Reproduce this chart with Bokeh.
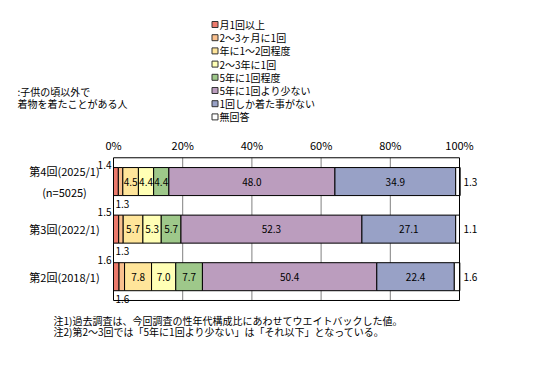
from bokeh.plotting import figure
from bokeh.models import ColumnDataSource, Range1d
from bokeh.core.properties import value
from bokeh.embed import file_html
from bokeh.resources import INLINE

# ---------------- data ----------------
categories = ["第2回(2018/1)", "第3回(2022/1)", "第4回(2025/1)"]          # bottom -> top
row_labels = ["第2回(2018/1)", "第3回(2022/1)", "第4回(2025/1)\n(n=5025)"]

series_names = ["月1回以上", "2～3ヶ月に1回", "年に1～2回程度", "2～3年に1回",
                "5年に1回程度", "5年に1回より少ない", "1回しか着た事がない", "無回答"]

monthly          = [1.6, 1.5, 1.4]
every_2_3_months = [1.6, 1.3, 1.3]
yearly_1_2       = [7.8, 5.7, 4.5]
every_2_3_years  = [7.0, 5.3, 4.4]
every_5_years    = [7.7, 5.7, 4.4]
less_than_5y     = [50.4, 52.3, 48.0]
only_once        = [22.4, 27.1, 34.9]
no_answer        = [1.6, 1.1, 1.3]

tick_values = [0, 20, 40, 60, 80, 100]
tick_labels = ["0%", "20%", "40%", "60%", "80%", "100%"]

side_note = [":子供の頃以外で", "着物を着たことがある人"]
notes = ["注1)過去調査は、今回調査の性年代構成比にあわせてウエイトバックした値。",
         "注2)第2～3回では「5年に1回より少ない」は「それ以下」となっている。"]

colors = ["#EC7A6C", "#F9C08E", "#FFE59A", "#FFFFB5",
          "#9EC88A", "#BB9DBE", "#98A1C6", "#FFFFFF"]

series = [monthly, every_2_3_months, yearly_1_2, every_2_3_years,
          every_5_years, less_than_5y, only_once, no_answer]
keys = ["s%d" % i for i in range(len(series))]

JP = "Noto Sans CJK JP"

# ---------------- layout helpers (pixel -> data) ----------------
W, H = 531, 371
X0, XS = 113.0, 3.46          # page x of 0 %, px per 1 %
Y0, YS = 276.2, 47.57         # page y of bottom row centre, px per row
BAR_H = 0.589


def dx(px):
    return (px - X0) / XS


def dy(py):
    return (Y0 - py) / YS


p = figure(width=W, height=H,
           x_range=Range1d(dx(0), dx(W)), y_range=Range1d(dy(H), dy(0)),
           x_axis_location=None, y_axis_location=None,
           output_backend="svg", toolbar_location=None,
           min_border=0, min_border_left=0, min_border_right=0,
           min_border_top=0, min_border_bottom=0)
p.outline_line_color = None
p.grid.visible = False
p.background_fill_color = "white"
p.border_fill_color = "white"

rows = list(range(len(categories)))
ybot = rows[0] - 0.5
ytop = rows[-1] + 0.5

# grid lines (behind bars)
inner_ticks = tick_values[1:-1]
p.segment(x0=inner_ticks, y0=[ybot] * len(inner_ticks),
          x1=inner_ticks, y1=[ytop] * len(inner_ticks),
          line_color="#808080", line_width=1)

# bars
data = {"row": rows}
for k, s in zip(keys, series):
    data[k] = s
src = ColumnDataSource(data)
p.hbar_stack(keys, y="row", height=BAR_H, color=colors, source=src,
             line_color="black", line_width=1)

# plot frame
p.quad(left=[tick_values[0]], right=[tick_values[-1]], bottom=[ybot], top=[ytop],
       fill_color=None, line_color="black", line_width=1)

# tick labels
p.text(x=tick_values, y=[dy(144)] * len(tick_values), text=tick_labels,
       text_font=value(JP), text_font_size="11px", text_color="black",
       text_align="center", text_baseline="middle")

# ---------------- value labels ----------------
inner = dict(x=[], y=[], t=[])
first = dict(x=[], y=[], t=[])
second = dict(x=[], y=[], t=[])
last = dict(x=[], y=[], t=[])
for r in rows:
    start = 0.0
    for i, s in enumerate(series):
        v = s[r]
        txt = "%.1f" % v
        if i == 0:
            first["x"].append(start - 2 / XS)
            first["y"].append(r + BAR_H / 2 + 3 / YS)
            first["t"].append(txt)
        elif i == 1:
            second["x"].append(2 / XS)
            second["y"].append(r - BAR_H / 2 - 8 / YS)
            second["t"].append(txt)
        elif i == len(series) - 1:
            last["x"].append(100 + 4 / XS)
            last["y"].append(r)
            last["t"].append(txt)
        else:
            inner["x"].append(start + v / 2)
            inner["y"].append(r)
            inner["t"].append(txt)
        start += v

common = dict(text_font=value(JP), text_font_size="10px", text_color="black")
p.text(x="x", y="y", text="t", source=ColumnDataSource(inner),
       text_align="center", text_baseline="middle", **common)
p.text(x="x", y="y", text="t", source=ColumnDataSource(first),
       text_align="right", text_baseline="alphabetic", **common)
p.text(x="x", y="y", text="t", source=ColumnDataSource(second),
       text_align="left", text_baseline="alphabetic", **common)
p.text(x="x", y="y", text="t", source=ColumnDataSource(last),
       text_align="left", text_baseline="middle", **common)

# category labels
p.text(x=[dx(64)] * len(rows), y=rows, text=row_labels,
       text_font=value(JP), text_font_size="11px", text_color="black",
       text_align="center", text_baseline="middle", text_line_height=1.27)

# side note
p.text(x=[dx(17)] * len(side_note), y=[dy(91), dy(103)], text=side_note,
       text_font=value(JP), text_font_size="10px", text_color="black",
       text_align="left", text_baseline="middle")

# footnotes
p.text(x=[dx(53)] * len(notes), y=[dy(320), dy(331)], text=notes,
       text_font=value(JP), text_font_size="10px", text_color="black",
       text_align="left", text_baseline="middle")

# ---------------- legend (key squares + labels) ----------------
n = len(series_names)
leg_y = [dy(24 + 13.2 * i) for i in range(n)]
p.rect(x=[dx(214.5)] * n, y=leg_y, width=6, height=6,
       width_units="screen", height_units="screen",
       fill_color=colors, line_color="#333333", line_width=1)
p.text(x=[dx(219)] * n, y=leg_y, text=series_names,
       text_font=value(JP), text_font_size="10px", text_color="black",
       text_align="left", text_baseline="middle")

open("out.html", "w").write(file_html(p, INLINE))
